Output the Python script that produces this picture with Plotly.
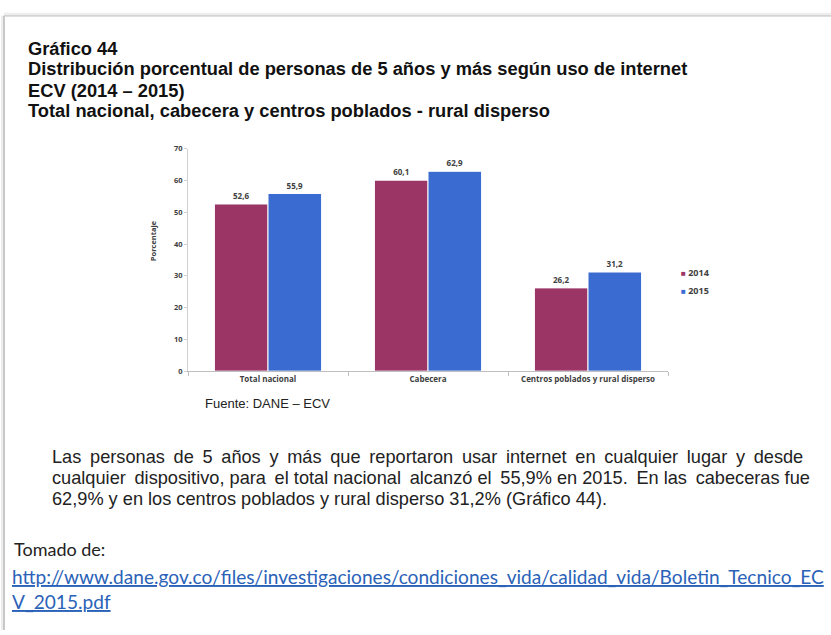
import plotly.graph_objects as go

W, H = 831, 635

categories = ["Total nacional", "Cabecera", "Centros poblados y rural disperso"]
series_names = ["2014", "2015"]
values_2014 = [52.6, 60.1, 26.2]
values_2015 = [55.9, 62.9, 31.2]
y_ticks = [0, 10, 20, 30, 40, 50, 60, 70]
colors = ["#9b3566", "#3a6bd1"]

title_lines = [
    "Gráfico 44",
    "Distribución porcentual de personas de 5 años y más según uso de internet",
    "ECV (2014 – 2015)",
    "Total nacional, cabecera y centros poblados - rural disperso",
]
body_lines = [
    "Las personas de 5 años y más que reportaron usar internet en cualquier lugar y desde",
    "cualquier dispositivo, para el total nacional alcanzó el 55,9% en 2015. En las cabeceras fue",
    "62,9% y en los centros poblados y rural disperso 31,2% (Gráfico 44).",
]
source_text = "Fuente: DANE – ECV"
tomado_text = "Tomado de:"
link_lines = [
    "http://www.dane.gov.co/files/investigaciones/condiciones_vida/calidad_vida/Boletin_Tecnico_EC",
    "V_2015.pdf",
]


def px(x):
    return x / W


def py(y):
    return 1 - y / H


def fmt(v):
    return f"{v:.1f}".replace(".", ",")


def justify(line, extra):
    # widen word gaps with thin spaces to imitate justified text
    words = line.split(" ")
    out = words[0]
    for i, w in enumerate(words[1:]):
        out += " " + ("\u2009" * extra[i % len(extra)]) + w
    return out


small_font = dict(family="Open Sans, Liberation Sans, sans-serif", size=8, color="#404040")

fig = go.Figure()
for name, vals, col in zip(series_names, [values_2014, values_2015], colors):
    fig.add_trace(go.Bar(
        x=categories, y=vals, name=name,
        marker=dict(color=col, line=dict(color="white", width=1)),
        text=[f"<b>{fmt(v)}</b>" for v in vals],
        textposition="outside", textfont=small_font,
        cliponaxis=False, showlegend=False,
    ))

annotations = []
title_y = [44, 65, 87, 107]
for t, yy in zip(title_lines, title_y):
    annotations.append(dict(
        text=f"<b>{t}</b>", x=px(26), y=py(yy), xref="paper", yref="paper",
        xanchor="left", yanchor="middle", showarrow=False,
        font=dict(family="Liberation Sans, Arial, sans-serif", size=18.3, color="#111111"),
    ))

body_y = [459, 481, 502]
body_extra = [[1], [1, 0, 1, 0, 0], [0]]
for t, yy, ex in zip(body_lines, body_y, body_extra):
    annotations.append(dict(
        text=justify(t, ex), x=px(50), y=py(yy), xref="paper", yref="paper",
        xanchor="left", yanchor="middle", showarrow=False,
        font=dict(family="Liberation Sans, Arial, sans-serif", size=18.2, color="#222222"),
    ))

annotations.append(dict(
    text=source_text, x=px(203), y=py(405), xref="paper", yref="paper",
    xanchor="left", yanchor="middle", showarrow=False,
    font=dict(family="Liberation Sans, Arial, sans-serif", size=13, color="#222222"),
))

annotations.append(dict(
    text=tomado_text, x=px(12), y=py(553), xref="paper", yref="paper",
    xanchor="left", yanchor="middle", showarrow=False,
    font=dict(family="Lato, Open Sans, sans-serif", size=18, color="#222222"),
))
for t, yy in zip(link_lines, [581, 606]):
    annotations.append(dict(
        text=f"<u>{t}</u>", x=px(10), y=py(yy), xref="paper", yref="paper",
        xanchor="left", yanchor="middle", showarrow=False,
        font=dict(family="Lato, Open Sans, sans-serif", size=19.1, color="#2a62b8"),
    ))

# legend drawn as text annotations
for name, col, yy in zip(series_names, colors, [272, 290]):
    annotations.append(dict(
        text=f"<span style='color:{col};font-size:8px'>■</span> <b>{name}</b>",
        x=px(679), y=py(yy), xref="paper", yref="paper",
        xanchor="left", yanchor="middle", showarrow=False,
        font=dict(family="Open Sans, Liberation Sans, sans-serif", size=9, color="#404040"),
    ))

annotations.append(dict(
    text="<b>Porcentaje</b>", x=px(153), y=py(240), xref="paper", yref="paper",
    xanchor="center", yanchor="middle", showarrow=False, textangle=-90,
    font=dict(family="Open Sans, Liberation Sans, sans-serif", size=7.5, color="#404040"),
))

shapes = [
    dict(type="line", xref="paper", yref="paper", x0=px(4), x1=px(831), y0=py(11), y1=py(11),
         line=dict(color="#d4d4d4", width=2)),
    dict(type="line", xref="paper", yref="paper", x0=px(4), x1=px(831), y0=py(9), y1=py(9),
         line=dict(color="#ededed", width=2)),
    dict(type="line", xref="paper", yref="paper", x0=px(4), x1=px(4), y0=py(11), y1=py(635),
         line=dict(color="#c8c8c8", width=2)),
    dict(type="line", xref="paper", yref="paper", x0=px(2), x1=px(2), y0=py(11), y1=py(635),
         line=dict(color="#ededed", width=2)),
]

fig.update_layout(
    width=W, height=H,
    margin=dict(l=0, r=0, t=0, b=0),
    paper_bgcolor="white", plot_bgcolor="white",
    barmode="group", bargap=0.33, bargroupgap=0,
    annotations=annotations, shapes=shapes,
    xaxis=dict(
        domain=[px(188), px(668)],
        showline=True, linecolor="#bfbfbf", linewidth=1,
        ticks="outside", tickson="boundaries", ticklen=4, tickcolor="#bfbfbf",
        tickfont=dict(family="Open Sans, Liberation Sans, sans-serif", size=8, color="#404040"),
        tickvals=categories, ticktext=[f"<b>{c}</b>" for c in categories],
        showgrid=False,
    ),
    yaxis=dict(
        domain=[py(372), py(146)],
        range=[0, 70], tickvals=y_ticks,
        ticktext=[f"<b>{v}</b>" for v in y_ticks],
        showline=True, linecolor="#d0d0d0", linewidth=1,
        ticks="outside", ticklen=3, tickcolor="#d0d0d0",
        tickfont=dict(family="Open Sans, Liberation Sans, sans-serif", size=7.5, color="#404040"),
        showgrid=False, zeroline=False,
    ),
)

fig.write_html("out.html", config={"displayModeBar": False},
               post_script="document.body.style.margin='0';")
